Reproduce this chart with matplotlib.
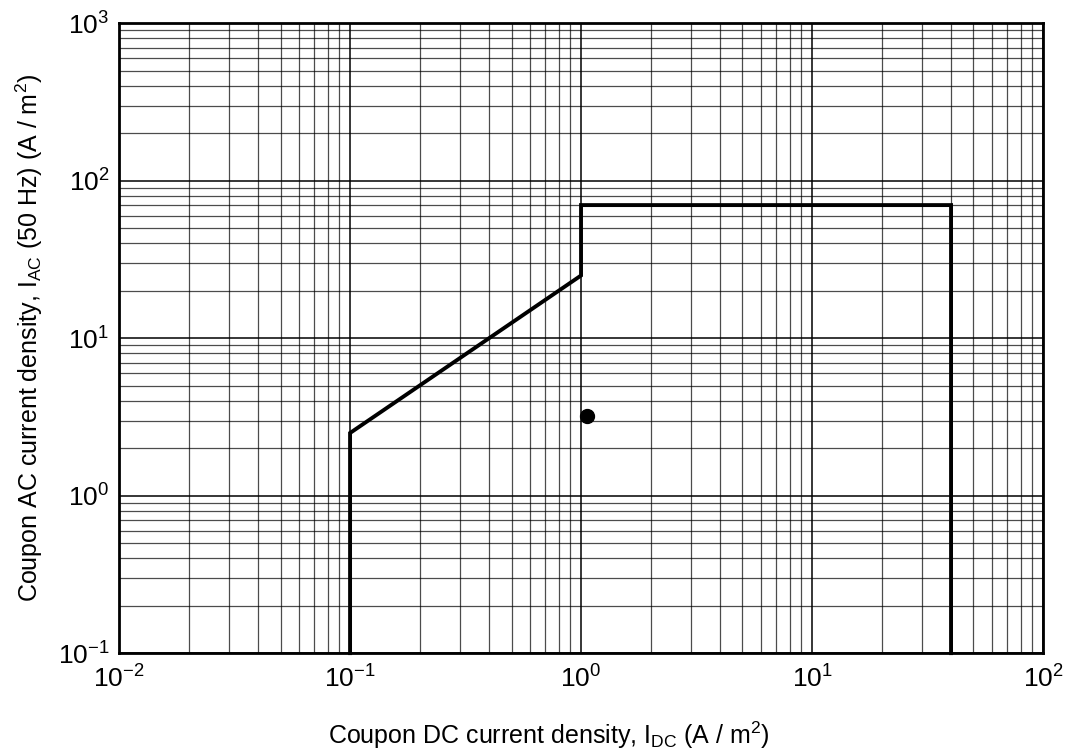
import numpy as np
import matplotlib
matplotlib.use('Agg')
import matplotlib.pyplot as plt
from matplotlib.ticker import LogLocator, NullFormatter

plt.rcParams['font.family'] = ['Liberation Sans', 'DejaVu Sans']
plt.rcParams['mathtext.fontset'] = 'custom'
plt.rcParams['mathtext.rm'] = 'Liberation Sans'
plt.rcParams['mathtext.it'] = 'Liberation Sans'

# limit curve (A/m^2)
i_dc = [0.1, 0.1, 1.0, 1.0, 40.0, 40.0]
i_ac = [0.1, 2.5, 25.0, 70.0, 70.0, 0.1]

# measured coupon
pt_dc = [1.06]
pt_ac = [3.2]

x_ticks = [1e-2, 1e-1, 1e0, 1e1, 1e2]
x_labels = ['$10^{-2}$', '$10^{-1}$', '$10^{0}$', '$10^{1}$', '$10^{2}$']
y_ticks = [1e-1, 1e0, 1e1, 1e2, 1e3]
y_labels = ['$10^{-1}$', '$10^{0}$', '$10^{1}$', '$10^{2}$', '$10^{3}$']

fig = plt.figure(figsize=(10.73, 7.49), dpi=100)
ax = fig.add_axes([0.111, 0.128, 0.861, 0.841])
ax.set_xscale('log')
ax.set_yscale('log')
ax.set_xlim(1e-2, 1e2)
ax.set_ylim(1e-1, 1e3)

ax.xaxis.set_minor_locator(LogLocator(base=10, subs=np.arange(2, 10), numticks=20))
ax.yaxis.set_minor_locator(LogLocator(base=10, subs=np.arange(2, 10), numticks=20))
ax.xaxis.set_minor_formatter(NullFormatter())
ax.yaxis.set_minor_formatter(NullFormatter())
ax.grid(True, which='major', color='black', lw=1.1)
ax.grid(True, which='minor', color='black', lw=0.9, alpha=0.7)
ax.set_axisbelow(True)

ax.plot(i_dc, i_ac, color='black', lw=2.8, solid_joinstyle='miter', clip_on=False, zorder=3)
ax.plot(pt_dc, pt_ac, 'o', color='black', ms=10, zorder=4)

ax.set_xticks(x_ticks)
ax.set_xticklabels(x_labels)
ax.set_yticks(y_ticks)
ax.set_yticklabels(y_labels)
ax.tick_params(which='both', length=0, labelsize=19)
ax.tick_params(axis='x', pad=9)
ax.tick_params(axis='y', pad=7)
for s in ax.spines.values():
    s.set_linewidth(2)

ax.set_xlabel('Coupon DC current density, $\\mathrm{I_{DC}}$ (A / m$^{2}$)', fontsize=18, labelpad=16)
ax.xaxis.set_label_coords(0.465, -0.105)
ax.set_ylabel('Coupon AC current density, $\\mathrm{I_{AC}}$ (50 Hz) (A / m$^{2}$)', fontsize=18, labelpad=9)

plt.savefig('out.png', dpi=100)
